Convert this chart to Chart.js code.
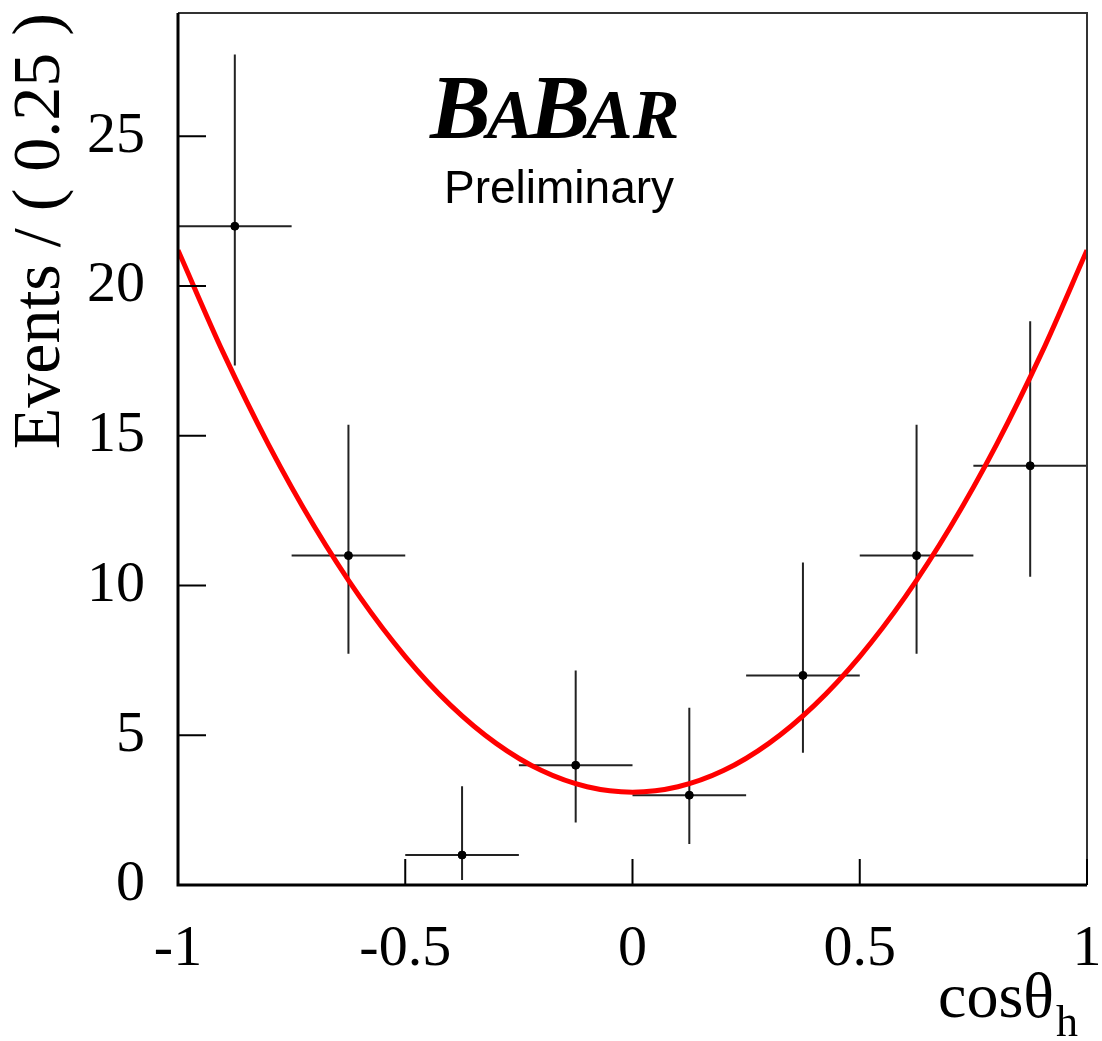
<!DOCTYPE html>
<html>
<head>
<meta charset="utf-8">
<script src="https://cdn.jsdelivr.net/npm/chart.js@4.4.1/dist/chart.umd.min.js"></script>
<style>
  body { margin: 0; background: #fff; }
  canvas { display: block; }
</style>
</head>
<body>
<canvas id="angChart" width="1102" height="1041"></canvas>
<script>
// Data
const binCenters = [-0.875, -0.625, -0.375, -0.125, 0.125, 0.375, 0.625, 0.875];
const binHalfWidth = 0.125;
const events = [22, 11, 1, 4, 3, 7, 11, 14];
const errHigh = [27.73, 15.37, 3.3, 7.16, 5.92, 10.77, 15.37, 18.83];
const errLow = [17.35, 7.72, 0.17, 2.09, 1.37, 4.42, 7.72, 10.29];

// fit curve
const fitX = [-1, -0.9, -0.8, -0.7, -0.6, -0.5, -0.4, -0.3, -0.2, -0.1, 0,
              0.1, 0.2, 0.3, 0.4, 0.5, 0.6, 0.7, 0.8, 0.9, 1];
const fitY = [21.2, 17.76, 14.68, 11.97, 9.62, 7.63, 6.0, 4.73, 3.82, 3.28, 3.1,
              3.28, 3.82, 4.73, 6.0, 7.63, 9.62, 11.97, 14.68, 17.76, 21.2];

const xTicks = [-1, -0.5, 0, 0.5, 1];
const yTicks = [0, 5, 10, 15, 20, 25];

const serif = '"Liberation Serif", "Times New Roman", serif';
const sans = '"Liberation Sans", Arial, sans-serif';

// no extra room for overhanging labels, the plot box is fixed
function noPad(s) {
    s.paddingLeft = 0;
    s.paddingRight = 0;
    s.paddingTop = 0;
    s.paddingBottom = 0;
}

// error bars, inward ticks, frame and labels
const overlay = {
    id: 'overlay',
    beforeDatasetsDraw(chart) {
        const ctx = chart.ctx, x = chart.scales.x, y = chart.scales.y;
        ctx.save();
        ctx.strokeStyle = '#222';
        ctx.lineWidth = 2;
        ctx.beginPath();
        binCenters.forEach((c, i) => {
            const px = x.getPixelForValue(c), py = y.getPixelForValue(events[i]);
            ctx.moveTo(x.getPixelForValue(c - binHalfWidth), py);
            ctx.lineTo(x.getPixelForValue(c + binHalfWidth), py);
            ctx.moveTo(px, y.getPixelForValue(errLow[i]));
            ctx.lineTo(px, y.getPixelForValue(errHigh[i]));
        });
        ctx.stroke();
        ctx.restore();
    },
    afterDraw(chart) {
        const ctx = chart.ctx, a = chart.chartArea;
        const x = chart.scales.x, y = chart.scales.y;
        ctx.save();
        // top / right frame
        ctx.strokeStyle = '#333';
        ctx.lineWidth = 2;
        ctx.beginPath();
        ctx.moveTo(a.left, a.top);
        ctx.lineTo(a.right, a.top);
        ctx.lineTo(a.right, a.bottom);
        ctx.stroke();
        // left / bottom axes
        ctx.strokeStyle = '#000';
        ctx.lineWidth = 3;
        ctx.beginPath();
        ctx.moveTo(a.left, a.top);
        ctx.lineTo(a.left, a.bottom);
        ctx.lineTo(a.right, a.bottom);
        ctx.stroke();
        // inward ticks
        ctx.lineWidth = 2;
        ctx.beginPath();
        yTicks.forEach(v => {
            const py = y.getPixelForValue(v);
            ctx.moveTo(a.left, py);
            ctx.lineTo(a.left + 28, py);
        });
        xTicks.forEach(v => {
            const px = x.getPixelForValue(v);
            ctx.moveTo(px, a.bottom);
            ctx.lineTo(px, a.bottom - 26);
        });
        ctx.stroke();

        // x title with subscript
        ctx.fillStyle = '#000';
        ctx.textBaseline = 'alphabetic';
        ctx.textAlign = 'left';
        ctx.font = '64px ' + serif;
        ctx.fillText('cosθ', 938, 1017);
        const w = ctx.measureText('cosθ').width;
        ctx.font = '44px ' + serif;
        ctx.fillText('h', 938 + w + 2, 1036);

        // BABAR logo
        const big = 'bold italic 91px ' + serif, small = 'bold italic 70px ' + serif;
        let cx = 430;
        [['B', big], ['A', small], ['B', big], ['AR', small]].forEach(([t, f]) => {
            ctx.font = f;
            ctx.fillText(t, cx, 138);
            cx += ctx.measureText(t).width - 4;
        });
        ctx.font = '46px ' + sans;
        ctx.fillText('Preliminary', 444, 203);
        ctx.restore();
    }
};

const ctx = document.getElementById('angChart').getContext('2d');
const angChart = new Chart(ctx, {
    type: 'scatter',
    data: {
        datasets: [{
            type: 'line',
            label: 'fit',
            data: fitX.map((v, i) => ({ x: v, y: fitY[i] })),
            borderColor: '#ff0000',
            borderWidth: 5,
            pointRadius: 0,
            tension: 0.4,
            cubicInterpolationMode: 'monotone',
            fill: false
        }, {
            label: 'data',
            data: binCenters.map((v, i) => ({ x: v, y: events[i] })),
            backgroundColor: '#000',
            borderColor: '#000',
            pointRadius: 4
        }]
    },
    options: {
        responsive: false,
        devicePixelRatio: 1,
        animation: false,
        layout: { padding: { left: 0, right: 15, top: 13, bottom: 0 } },
        plugins: {
            legend: { display: false },
            tooltip: { enabled: false }
        },
        scales: {
            x: {
                type: 'linear',
                min: -1,
                max: 1,
                afterFit: s => { s.height = 156; noPad(s); },
                afterBuildTicks: s => { s.ticks = xTicks.map(v => ({ value: v })); },
                grid: { display: false, drawTicks: false },
                border: { display: false },
                ticks: {
                    color: '#000',
                    font: { family: serif, size: 58 },
                    padding: 30,
                    maxRotation: 0,
                    callback: v => String(v)
                }
            },
            y: {
                min: 0,
                max: 29.12,
                afterFit: s => { s.width = 178; noPad(s); },
                afterBuildTicks: s => { s.ticks = yTicks.map(v => ({ value: v })); },
                grid: { display: false, drawTicks: false },
                border: { display: false },
                ticks: {
                    color: '#000',
                    font: { family: serif, size: 58 },
                    padding: 33,
                    callback: v => String(v)
                },
                title: {
                    display: true,
                    text: 'Events / ( 0.25 )',
                    align: 'end',
                    color: '#000',
                    font: { family: serif, size: 68 },
                    padding: { top: 0, bottom: 0 }
                }
            }
        }
    },
    plugins: [overlay]
});
</script>
</body>
</html>
